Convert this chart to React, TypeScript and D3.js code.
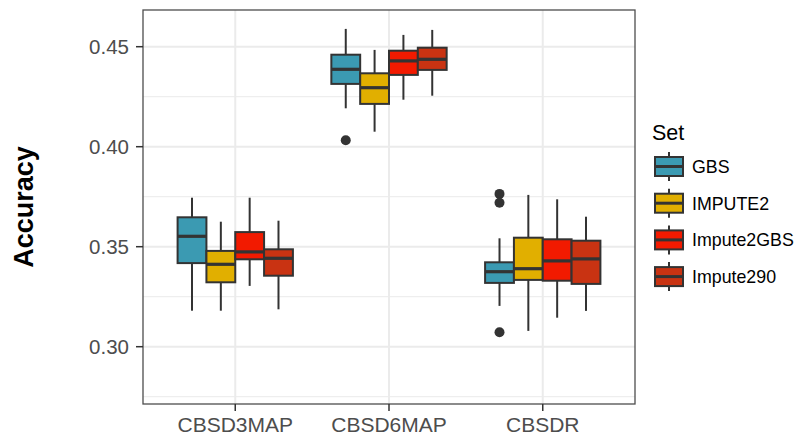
import React from "react";
import * as d3 from "d3";

const categories = ["CBSD3MAP", "CBSD6MAP", "CBSDR"];
const sets = ["GBS", "IMPUTE2", "Impute2GBS", "Impute290"];
const setColors = ["#3B9AB2", "#E1AF00", "#F21A00", "#C93312"];
const yTicks = [0.3, 0.35, 0.4, 0.45];
const yMinorTicks = [0.275, 0.325, 0.375, 0.425];

// [lower whisker, q1, median, q3, upper whisker] per category
const gbsStats = [
  [0.318, 0.3418, 0.3552, 0.3647, 0.3745],
  [0.4192, 0.4314, 0.4387, 0.446, 0.4589],
  [0.3204, 0.3319, 0.3375, 0.3422, 0.3542],
];
const impute2Stats = [
  [0.318, 0.3322, 0.3412, 0.3479, 0.3625],
  [0.4075, 0.4214, 0.4295, 0.4367, 0.4484],
  [0.3079, 0.3334, 0.339, 0.3545, 0.3759],
];
const impute2gbsStats = [
  [0.3304, 0.3437, 0.3474, 0.3573, 0.3745],
  [0.4235, 0.4359, 0.4429, 0.448, 0.4559],
  [0.3145, 0.333, 0.3429, 0.3537, 0.3737],
];
const impute290Stats = [
  [0.3187, 0.3355, 0.3442, 0.3487, 0.363],
  [0.4255, 0.4384, 0.4437, 0.4495, 0.4584],
  [0.3179, 0.3314, 0.3439, 0.353, 0.365],
];
const allStats = [gbsStats, impute2Stats, impute2gbsStats, impute290Stats];

// outliers: [setIndex, categoryIndex, value]
const outliers: [number, number, number][] = [
  [0, 1, 0.4032],
  [0, 2, 0.3764],
  [0, 2, 0.372],
  [0, 2, 0.3072],
];

export default function App() {
  const W = 796;
  const H = 436;
  const pL = 143, pR = 635, pT = 10, pB = 404;
  const x = d3.scaleLinear().domain([0.4, 3.6]).range([pL, pR]);
  const y = d3.scaleLinear().domain([0.27135, 0.46835]).range([pB, pT]);
  const dodge = 0.75 / sets.length;
  const boxW = x(dodge) - x(0);
  const cx = (ci: number, si: number) => x(ci + 1 + (si - (sets.length - 1) / 2) * dodge);
  const outline = "#333333";
  const font = "'Liberation Sans', Arial, Helvetica, sans-serif";

  const legendX = 655;
  const legendKeyW = 28;
  const legendStartY = 166.5;
  const legendStep = 36.7;

  return (
    <svg width={W} height={H} style={{ position: "absolute", left: 0, top: 0 }} fontFamily={font}>
      <rect x={0} y={0} width={W} height={H} fill="#ffffff" />
      {/* grid */}
      {yMinorTicks.map((t) => (
        <line key={"mn" + t} x1={pL} x2={pR} y1={y(t)} y2={y(t)} stroke="#ebebeb" strokeWidth={1} />
      ))}
      {yTicks.map((t) => (
        <line key={"mj" + t} x1={pL} x2={pR} y1={y(t)} y2={y(t)} stroke="#ebebeb" strokeWidth={2} />
      ))}
      {categories.map((c, i) => (
        <line key={"vg" + c} x1={x(i + 1)} x2={x(i + 1)} y1={pT} y2={pB} stroke="#ebebeb" strokeWidth={2} />
      ))}
      {/* boxes */}
      {allStats.map((stats, si) =>
        stats.map((s, ci) => {
          const c = cx(ci, si);
          return (
            <g key={`b${si}-${ci}`}>
              <line x1={c} x2={c} y1={y(s[4])} y2={y(s[3])} stroke={outline} strokeWidth={2} />
              <line x1={c} x2={c} y1={y(s[1])} y2={y(s[0])} stroke={outline} strokeWidth={2} />
              <rect
                x={c - boxW / 2}
                y={y(s[3])}
                width={boxW}
                height={y(s[1]) - y(s[3])}
                fill={setColors[si]}
                stroke={outline}
                strokeWidth={2}
              />
              <line x1={c - boxW / 2} x2={c + boxW / 2} y1={y(s[2])} y2={y(s[2])} stroke={outline} strokeWidth={3.2} />
            </g>
          );
        })
      )}
      {outliers.map(([si, ci, v], i) => (
        <circle key={"o" + i} cx={cx(ci, si)} cy={y(v)} r={5} fill={outline} />
      ))}
      {/* panel border */}
      <rect x={pL} y={pT} width={pR - pL} height={pB - pT} fill="none" stroke="#4d4d4d" strokeWidth={1.3} />
      {/* y axis */}
      {yTicks.map((t) => (
        <g key={"yt" + t}>
          <line x1={pL - 7} x2={pL} y1={y(t)} y2={y(t)} stroke="#333333" strokeWidth={1.5} />
          <text x={pL - 14} y={y(t)} dy="0.36em" textAnchor="end" fontSize={20.5} fill="#4d4d4d">
            {d3.format(".2f")(t)}
          </text>
        </g>
      ))}
      {/* x axis */}
      {categories.map((c, i) => (
        <g key={"xt" + c}>
          <line x1={x(i + 1)} x2={x(i + 1)} y1={pB} y2={pB + 7} stroke="#333333" strokeWidth={1.5} />
          <text x={x(i + 1)} y={432} textAnchor="middle" fontSize={21} fill="#4d4d4d">
            {c}
          </text>
        </g>
      ))}
      <text
        transform={`translate(33,${(pT + pB) / 2}) rotate(-90)`}
        textAnchor="middle"
        fontSize={27}
        fontWeight="bold"
        fill="#000000"
      >
        Accuracy
      </text>
      {/* legend */}
      <text x={652} y={140} fontSize={21.5} fill="#000000">
        Set
      </text>
      {sets.map((s, i) => {
        const cy = legendStartY + i * legendStep;
        const kc = legendX + legendKeyW / 2;
        return (
          <g key={"lg" + s}>
            <line x1={kc} x2={kc} y1={cy - 14.5} y2={cy + 14.5} stroke={outline} strokeWidth={2} />
            <rect x={legendX} y={cy - 9.5} width={legendKeyW} height={19} fill={setColors[i]} stroke={outline} strokeWidth={2} />
            <line x1={legendX} x2={legendX + legendKeyW} y1={cy} y2={cy} stroke={outline} strokeWidth={3} />
            <text x={692} y={cy} dy="0.36em" fontSize={17.8} fill="#000000">
              {s}
            </text>
          </g>
        );
      })}
    </svg>
  );
}
